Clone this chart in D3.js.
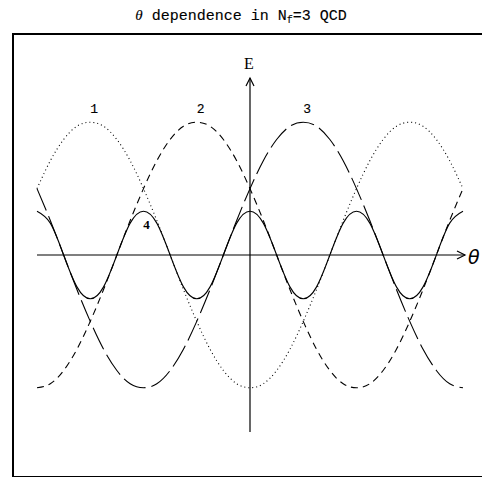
<!DOCTYPE html>
<html lang="en">
<head>
  <meta charset="UTF-8">
  <title>theta dependence in Nf=3 QCD</title>
  <script src="https://d3js.org/d3.v7.min.js"></script>
  <style>
    body { margin: 0; background: #fff; }
  </style>
</head>
<body>
  <div id="chart"></div>
  <script>
    const width = 482;
    const height = 477;

    // theta sample points, in units of pi (step pi/4)
    const thetaPts = d3.range(-16, 17).map(k => k / 4);

    // energies at each theta sample
    const branch1 = [0.5, 0.71, 0.87, 0.97, 1, 0.97, 0.87, 0.71, 0.5, 0.26, 0, -0.26, -0.5, -0.71, -0.87, -0.97,
                     -1, -0.97, -0.87, -0.71, -0.5, -0.26, 0, 0.26, 0.5, 0.71, 0.87, 0.97, 1, 0.97, 0.87, 0.71, 0.5];
    const branch2 = [-1, -0.97, -0.87, -0.71, -0.5, -0.26, 0, 0.26, 0.5, 0.71, 0.87, 0.97, 1, 0.97, 0.87, 0.71,
                     0.5, 0.26, 0, -0.26, -0.5, -0.71, -0.87, -0.97, -1, -0.97, -0.87, -0.71, -0.5, -0.26, 0, 0.26, 0.5];
    const branch3 = [0.5, 0.26, 0, -0.26, -0.5, -0.71, -0.87, -0.97, -1, -0.97, -0.87, -0.71, -0.5, -0.26, 0, 0.26,
                     0.5, 0.71, 0.87, 0.97, 1, 0.97, 0.87, 0.71, 0.5, 0.26, 0, -0.26, -0.5, -0.71, -0.87, -0.97, -1];
    const branch4 = [0.33, 0.24, 0, -0.24, -0.33, -0.24, 0, 0.24, 0.33, 0.24, 0, -0.24, -0.33, -0.24, 0, 0.24,
                     0.33, 0.24, 0, -0.24, -0.33, -0.24, 0, 0.24, 0.33, 0.24, 0, -0.24, -0.33, -0.24, 0, 0.24, 0.33];

    const branchNames = ["1", "2", "3", "4"];
    // theta (units of pi) where each number label sits
    const labelTheta = [-3, -1, 1, -2];

    const svg = d3.select("#chart")
      .append("svg")
      .attr("width", width)
      .attr("height", height);

    const x = d3.scaleLinear().domain([-4, 4]).range([37, 463]);
    const y = d3.scaleLinear().domain([-4 / 3, 4 / 3]).range([432, 78]);

    // frame
    svg.append("rect")
      .attr("x", 13).attr("y", 34)
      .attr("width", 520).attr("height", 443)
      .attr("fill", "none")
      .attr("stroke", "#000")
      .attr("stroke-width", 2);

    // title
    const title = svg.append("text")
      .attr("x", 241).attr("y", 20)
      .attr("text-anchor", "middle")
      .attr("fill", "#000")
      .attr("stroke", "#000")
      .attr("stroke-width", 0.12)
      .style("font-family", "'Liberation Mono', monospace")
      .style("font-size", "15px");
    title.append("tspan").style("font-style", "italic").style("font-family", "'Liberation Serif', serif").text("θ");
    title.append("tspan").text(" dependence in N");
    title.append("tspan").attr("dy", 3).style("font-size", "10px").text("f");
    title.append("tspan").attr("dy", -3).text("=3 QCD");

    // axes
    const axes = svg.append("g").attr("stroke", "#000").attr("stroke-width", 1.2).attr("fill", "none");
    const x0 = x(0), y0 = y(0);
    const xEnd = x(4) + 2;
    axes.append("line").attr("x1", x(-4)).attr("x2", xEnd).attr("y1", y0).attr("y2", y0);
    axes.append("path").attr("d", `M${xEnd - 8},${y0 - 4}L${xEnd},${y0}L${xEnd - 8},${y0 + 4}`);
    axes.append("line").attr("x1", x0).attr("x2", x0).attr("y1", y(-4 / 3)).attr("y2", y(4 / 3));
    axes.append("path").attr("d", `M${x0 - 4},${y(4 / 3) + 8}L${x0},${y(4 / 3)}L${x0 + 4},${y(4 / 3) + 8}`);

    svg.append("text")
      .attr("x", xEnd + 3).attr("y", y0 + 9)
      .style("font-family", "'DejaVu Sans', sans-serif")
      .style("font-style", "italic")
      .style("font-size", "19px")
      .text("θ");

    svg.append("text")
      .attr("x", x0 - 1).attr("y", y(4 / 3) - 9)
      .attr("text-anchor", "middle")
      .style("font-family", "'Liberation Serif', serif")
      .style("font-size", "16px")
      .text("E");

    // curves
    const line = d3.line()
      .x((d, i) => x(thetaPts[i]))
      .y(d => y(d))
      .curve(d3.curveNatural);

    const series = [
      { values: branch1, dash: "1,3", width: 1.1 },
      { values: branch2, dash: "7,5", width: 1.1 },
      { values: branch3, dash: "24,6", width: 1.1 },
      { values: branch4, dash: null, width: 1.1 }
    ];

    svg.selectAll("path.branch")
      .data(series)
      .enter()
      .append("path")
      .attr("class", "branch")
      .attr("d", d => line(d.values))
      .attr("fill", "none")
      .attr("stroke", "#000")
      .attr("stroke-width", d => d.width)
      .attr("stroke-dasharray", d => d.dash);

    // number labels
    svg.selectAll("text.num")
      .data(branchNames)
      .enter()
      .append("text")
      .attr("class", "num")
      .attr("x", (d, i) => x(labelTheta[i]) + (i < 3 ? 4 : 3))
      .attr("y", (d, i) => i < 3 ? 113 : 229)
      .attr("text-anchor", "middle")
      .attr("stroke", "#000")
      .attr("stroke-width", (d, i) => i < 3 ? 0.15 : 0)
      .style("font-family", (d, i) => i < 3 ? "'Liberation Mono', monospace" : "'Liberation Serif', serif")
      .style("font-weight", (d, i) => i < 3 ? "normal" : "bold")
      .style("font-size", "13px")
      .text(d => d);
  </script>
</body>
</html>
